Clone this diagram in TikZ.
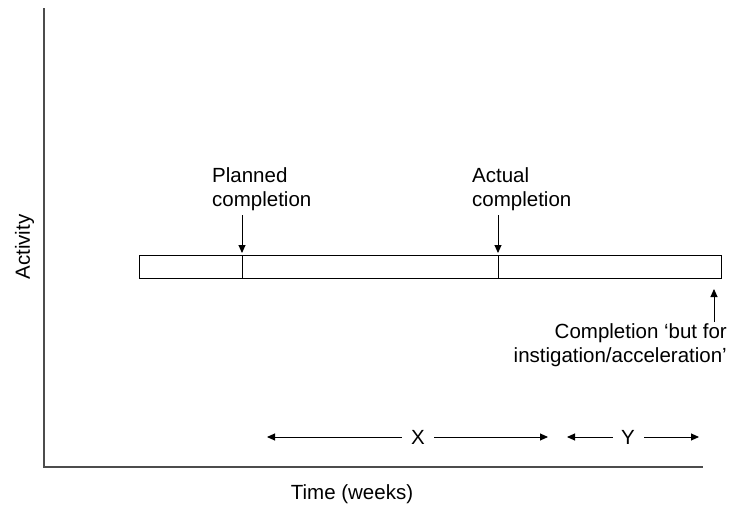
\documentclass[tikz,border=0pt]{standalone}
\usepackage{fontspec}
\setmainfont{Liberation Sans}
\usetikzlibrary{arrows.meta}
\begin{document}
\begin{tikzpicture}[x=1pt,y=-1pt,
  axis/.style={line width=1.4pt,draw=black!70},
  barline/.style={line width=0.9pt},
  tip/.tip={Triangle[length=8pt,width=7pt]},
  ptr/.style={line width=0.9pt,-tip},
  rptr/.style={line width=0.9pt,tip-},
  lbl/.style={font=\fontsize{20.5}{24}\selectfont,inner sep=0pt}]
\useasboundingbox (0,0) rectangle (729,514);
% axes
\coordinate (ytop) at (44,8);
\coordinate (origin) at (44,467);
\coordinate (xend) at (703,467);
\draw[axis] (ytop) -- (origin) -- (xend);
\node[lbl,rotate=90,anchor=base] (ylab) at (30,247) {Activity};
\node[lbl,anchor=base] (xlab) at (352,499) {Time (weeks)};
% activity bar
\coordinate (barTL) at (139,255);
\coordinate (barBR) at (721,278);
\draw[barline] (barTL) rectangle (barBR);
\coordinate (p1) at (242,255);
\coordinate (p1b) at (242,278);
\coordinate (a1) at (498,255);
\coordinate (a1b) at (498,278);
\draw[barline] (p1) -- (p1b);
\draw[barline] (a1) -- (a1b);
% planned / actual markers (base = baseline of the lower line)
\node[lbl,anchor=base west,align=left] (planned) at (212,206) {Planned\\completion};
\node[lbl,anchor=base west,align=left] (actual) at (472,206) {Actual\\completion};
\coordinate (p1t) at (242,215);
\coordinate (a1t) at (498,215);
\coordinate (p1h) at (242,253);
\coordinate (a1h) at (498,253);
\draw[ptr] (p1t) -- (p1h);
\draw[ptr] (a1t) -- (a1h);
% but-for completion
\coordinate (bfs) at (714,322);
\coordinate (bfe) at (714,289);
\draw[ptr] (bfs) -- (bfe);
\node[lbl,anchor=base east,align=right] (butfor) at (727,362) {Completion ‘but for\\instigation/acceleration’};
% spans X and Y
\node[lbl] (X) at (418,437) {X};
\node[lbl] (Y) at (628,437) {Y};
\coordinate (xl) at (267,437);
\coordinate (xlm) at (402,437);
\coordinate (xrm) at (434,437);
\coordinate (xr) at (548,437);
\coordinate (yl) at (567,437);
\coordinate (ylm) at (613,437);
\coordinate (yrm) at (644,437);
\coordinate (yr) at (699,437);
\draw[rptr] (xl) -- (xlm);
\draw[ptr] (xrm) -- (xr);
\draw[rptr] (yl) -- (ylm);
\draw[ptr] (yrm) -- (yr);
\end{tikzpicture}
\end{document}
